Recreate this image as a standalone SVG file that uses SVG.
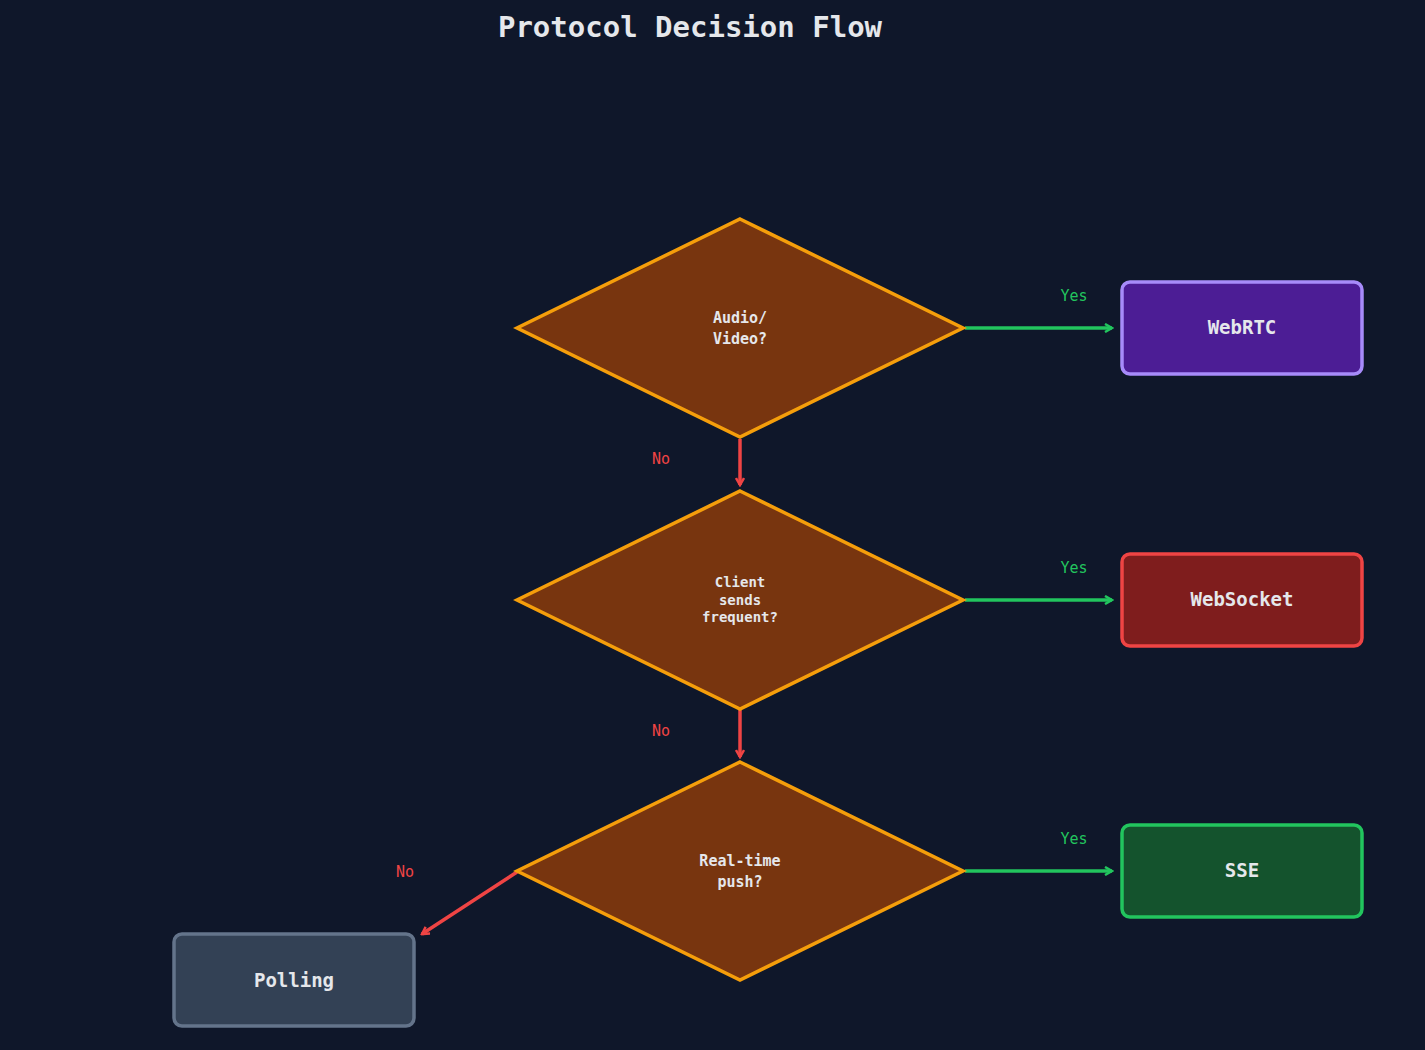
<svg xmlns="http://www.w3.org/2000/svg" width="1425" height="1050" viewBox="0 0 1425 1050">
<defs>
<marker id="ag" markerWidth="10" markerHeight="10" refX="8" refY="5" orient="auto" markerUnits="userSpaceOnUse"><path d="M1,1 L8,5 L1,9" fill="none" stroke="#22c55e" stroke-width="2.5"/></marker>
<marker id="ar" markerWidth="10" markerHeight="10" refX="8" refY="5" orient="auto" markerUnits="userSpaceOnUse"><path d="M1,1 L8,5 L1,9" fill="none" stroke="#ef4444" stroke-width="2.5"/></marker>
</defs>
<style>
text{font-family:"DejaVu Sans Mono","Liberation Mono",monospace;text-anchor:middle}
.d{fill:#78350f;stroke:#f59e0b;stroke-width:3.5}
.dt{fill:#e5e7eb;font-weight:bold;font-size:15px}
.bt{fill:#e5e7eb;font-weight:bold;font-size:19px}
.y{stroke:#22c55e;stroke-width:3.5;fill:none}
.n{stroke:#ef4444;stroke-width:3.5;fill:none}
.yl{fill:#22c55e;font-size:15px}
.nl{fill:#ef4444;font-size:15px}
</style>
<rect width="1425" height="1050" fill="#0f172a"/>
<text x="690" y="37" style="font-size:29px;font-weight:bold;fill:#e5e7eb">Protocol Decision Flow</text>
<g id="connectors">
<path class="y" d="M965,328 H1112" marker-end="url(#ag)"/>
<path class="y" d="M965,600 H1112" marker-end="url(#ag)"/>
<path class="y" d="M965,871 H1112" marker-end="url(#ag)"/>
<path class="n" d="M740,439 V485" marker-end="url(#ar)"/>
<path class="n" d="M740,710 V757" marker-end="url(#ar)"/>
<path class="n" d="M517,872 L422,934" marker-end="url(#ar)"/>
<text class="yl" x="1074" y="301">Yes</text>
<text class="yl" x="1074" y="573">Yes</text>
<text class="yl" x="1074" y="844">Yes</text>
<text class="nl" x="661" y="464">No</text>
<text class="nl" x="661" y="736">No</text>
<text class="nl" x="405" y="877">No</text>
</g>
<g id="q1"><polygon class="d" points="740,219 963,328 740,437 517,328"/><text class="dt" x="740" y="323">Audio/</text><text class="dt" x="740" y="344">Video?</text></g>
<g id="q2"><polygon class="d" points="740,491 963,600 740,709 517,600"/><text class="dt" x="740" y="587" style="font-size:14px">Client</text><text class="dt" x="740" y="605" style="font-size:14px">sends</text><text class="dt" x="740" y="622" style="font-size:14px">frequent?</text></g>
<g id="q3"><polygon class="d" points="740,762 963,871 740,980 517,871"/><text class="dt" x="740" y="866">Real-time</text><text class="dt" x="740" y="887">push?</text></g>
<g id="webrtc"><rect x="1122" y="282" width="240" height="92" rx="8" fill="#4c1d95" stroke="#a78bfa" stroke-width="3.5"/><text class="bt" x="1242" y="334">WebRTC</text></g>
<g id="websocket"><rect x="1122" y="554" width="240" height="92" rx="8" fill="#7f1d1d" stroke="#ef4444" stroke-width="3.5"/><text class="bt" x="1242" y="606">WebSocket</text></g>
<g id="sse"><rect x="1122" y="825" width="240" height="92" rx="8" fill="#14532d" stroke="#22c55e" stroke-width="3.5"/><text class="bt" x="1242" y="877">SSE</text></g>
<g id="polling"><rect x="174" y="934" width="240" height="92" rx="8" fill="#334155" stroke="#64748b" stroke-width="3.5"/><text class="bt" x="294" y="987">Polling</text></g>
</svg>
